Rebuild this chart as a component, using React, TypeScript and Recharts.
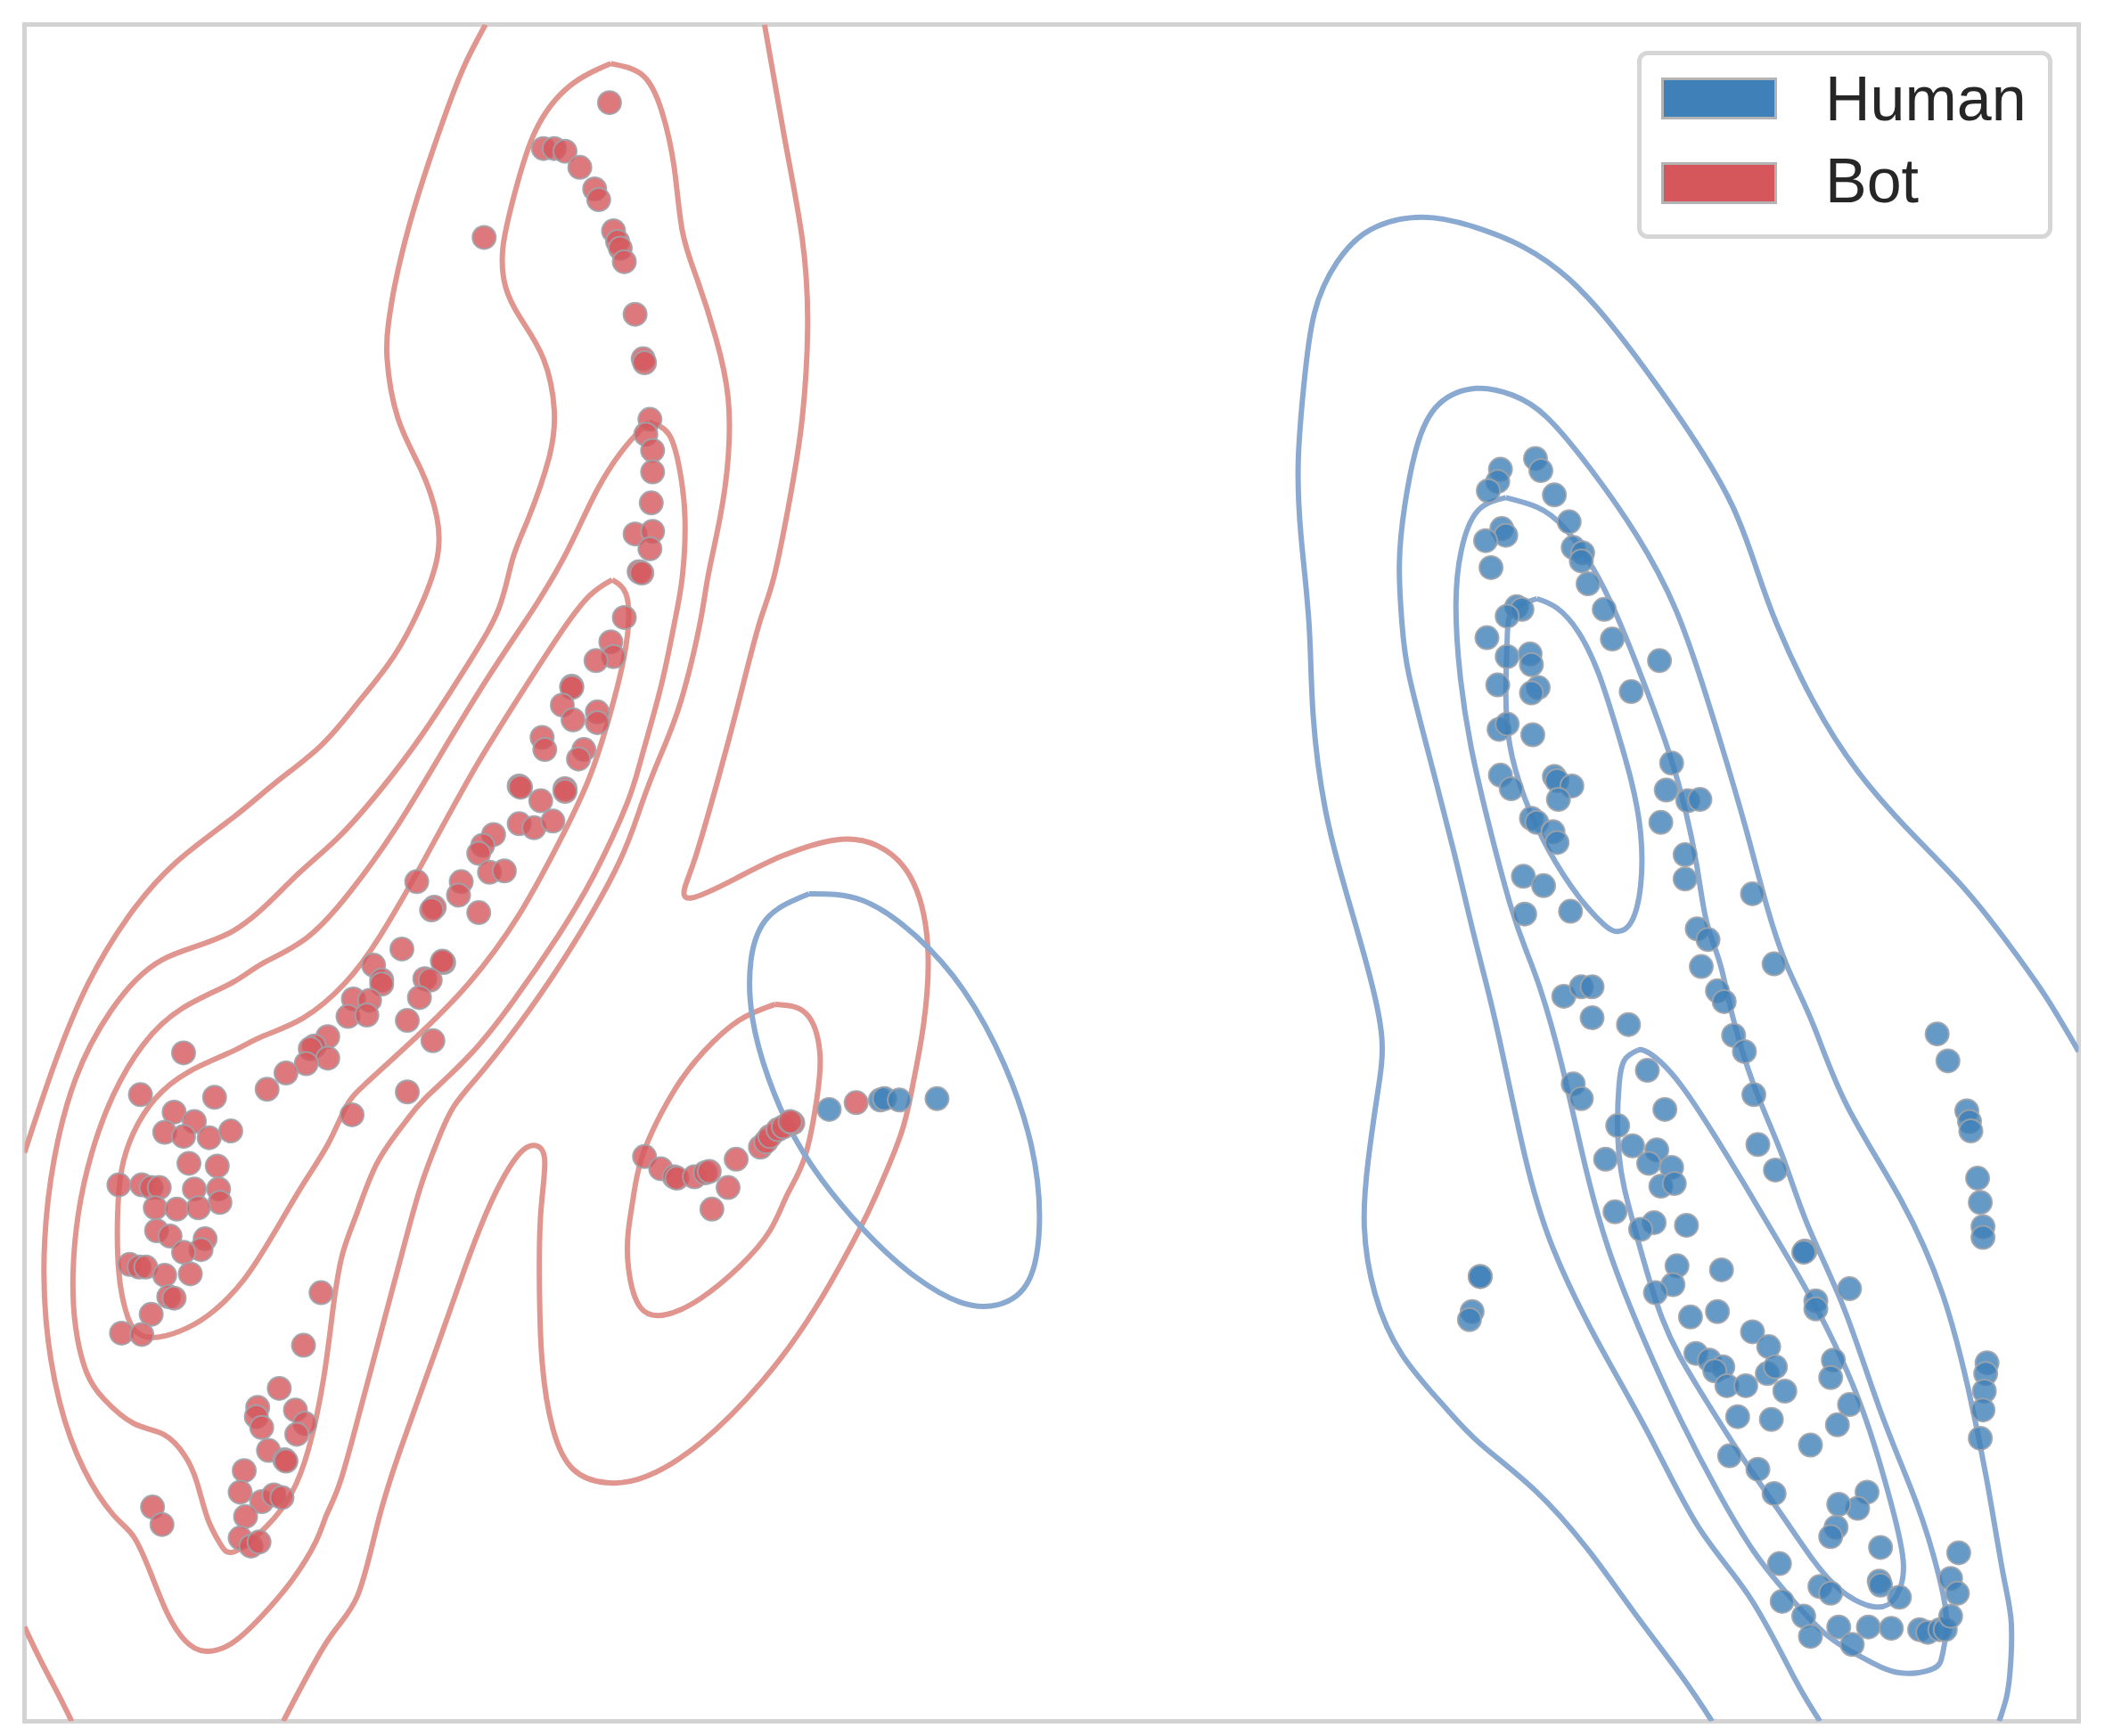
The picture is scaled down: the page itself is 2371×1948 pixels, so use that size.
import React from 'react';
import { ScatterChart, Scatter, XAxis, YAxis, ReferenceArea, Legend } from 'recharts';

type P = [number, number];

// ---- scatter points (embedding coordinates) ----
const botPoints: P[] = [
  [452,76],[403,110],[411,110],[419,112],[430,124],[441,140],[444,148],[455,171],[458,179],[460,184],[463,194],[359,176],[471,233],[477,266],[478,269],[482,311],[479,322],[484,334],[484,350],[483,373],[471,396],[484,394],[482,407],[474,424],[476,425],[463,458],
  [453,476],[455,487],[442,490],[424,509],[424,510],[417,523],[425,534],[443,528],[443,536],[402,547],[404,556],[433,556],[429,563],[385,583],[386,584],[401,594],[419,585],[419,587],[385,611],[396,614],[410,609],[366,619],[358,627],[355,633],[363,647],[374,646],[309,654],[342,654],[340,664],[322,673],[320,675],[355,677],[298,704],[277,716],[283,727],[283,730],[329,714],[328,713],[315,726],[319,727],[311,740],[262,741],[274,742],[258,754],[272,753],[302,757],[243,769],[233,776],[230,778],[243,785],[227,789],[321,772],[212,796],[198,808],[302,810],[261,827],
  [136,781],[104,812],[159,814],[129,825],[144,832],[122,840],[136,843],[155,844],[171,839],[140,863],[161,865],[88,879],[105,879],[112,881],[118,881],[144,882],[162,882],[163,892],[115,896],[131,897],[147,896],[116,913],[126,917],[152,919],[149,927],[136,929],[96,938],[103,940],[108,940],[122,946],[141,945],[125,962],[129,963],[112,975],[90,989],[105,990],[238,959],[225,998],
  [207,1030],[191,1044],[190,1051],[194,1059],[219,1046],[226,1056],[220,1064],[199,1076],[211,1083],[212,1084],[181,1091],[178,1107],[194,1114],[203,1109],[209,1111],[182,1125],[178,1141],[186,1147],[192,1144],[113,1118],[120,1131],
  [478,858],[490,867],[500,873],[502,874],[515,873],[523,870],[526,869],[540,881],[528,897],[546,860],[564,851],[568,847],[571,843],[577,838],[581,836],[588,833],[586,832],[635,818],
];

const humanPoints: P[] = [
  [615,823],[653,816],[656,815],[667,816],[695,815],
  [1113,348],[1111,357],[1104,364],[1139,340],[1143,349],[1153,367],[1164,387],[1114,392],[1117,397],[1102,401],[1106,421],[1167,406],[1174,410],[1173,416],[1178,433],[1190,452],[1125,450],[1129,452],[1118,457],[1103,473],[1196,474],[1118,487],[1135,485],[1136,493],[1231,490],[1111,508],[1141,510],[1136,514],[1210,513],[1112,541],[1118,537],[1137,545],[1113,575],[1121,585],[1153,576],[1155,579],[1166,583],[1156,593],[1240,566],[1236,586],[1252,594],[1261,593],[1136,607],[1140,610],[1152,617],[1155,625],[1232,610],[1250,634],[1250,652],[1300,663],[1130,650],[1145,657],[1131,678],[1165,676],[1259,689],[1267,697],[1262,717],[1316,715],
  [1160,739],[1173,732],[1181,732],[1181,755],[1208,760],[1274,735],[1279,743],[1286,768],[1294,780],[1301,812],[1304,849],[1317,868],[1167,804],[1173,815],[1222,794],[1235,823],[1200,835],[1211,850],[1191,860],[1229,853],[1223,863],[1240,866],[1232,880],[1242,878],[1198,899],[1227,907],[1217,912],[1251,909],[1339,928],[1338,929],[1372,956],[1347,965],[1347,971],[1244,939],[1277,942],[1241,953],[1228,959],[1254,977],[1274,973],[1300,988],[1312,999],[1258,1004],[1268,1009],[1278,1014],[1272,1017],[1281,1028],[1295,1028],[1311,1019],[1317,1014],[1324,1032],[1360,1009],[1358,1022],[1372,1042],[1363,1057],[1343,1072],[1289,1051],[1314,1053],[1283,1080],[1304,1090],[1316,1108],[1385,1107],[1378,1119],[1364,1116],[1362,1133],[1358,1140],[1395,1148],[1453,1152],[1320,1160],[1350,1177],[1358,1182],[1394,1173],[1395,1176],[1409,1185],[1447,1171],[1452,1182],[1322,1188],[1338,1199],[1343,1214],[1364,1207],[1374,1220],[1386,1207],[1403,1208],[1424,1209],[1430,1211],[1439,1209],[1443,1209],[1447,1199],
  [1437,767],[1445,787],[1459,824],[1461,832],[1462,839],[1467,874],[1469,892],[1471,910],[1471,918],[1474,1011],[1473,1019],[1472,1032],[1471,1046],[1469,1067],
  [1098,947],[1098,947],[1092,973],[1090,979],
];

// ---- density contour lines (Bot) ----
const botLevel1Left: P[] = [[360,18],[346,45],[333,77],[318,120],[304,165],[293,210],[288,240],[287,266],[295,310],[312,348],[324,384],[323,419],[306,462],[287,494],[264,523],[238,553],[205,580],[172,607],[130,640],[95,680],[65,730],[40,790],[18,855]];
const botLevel1Right: P[] = [[567,18],[582,103],[595,177],[599,242],[595,310],[586,369],[574,428],[563,463],[548,520],[532,580],[516,635],[508,658],[513,666],[545,652],[580,635],[620,623],[650,627],[675,650],[688,700],[685,760],[677,805],[668,842],[650,886],[637,913],[605,970],[565,1025],[520,1070],[480,1095],[450,1100],[425,1090],[410,1060],[402,1010],[400,950],[401,900],[404,862],[398,850],[385,856],[365,890],[345,940],[322,1005],[297,1075],[280,1130],[265,1184],[243,1217],[210,1277]];
const botLevel1Corner: P[] = [[18,1207],[30,1232],[42,1255],[53,1277]];
const botLevel2: P[] = [[453,47],[477,56],[491,83],[500,124],[506,171],[517,207],[531,251],[540,295],[540,340],[534,384],[525,428],[519,463],[505,520],[490,560],[476,596],[459,640],[426,699],[392,750],[359,793],[337,820],[325,845],[312,880],[298,930],[282,990],[266,1050],[252,1100],[242,1124],[234,1144],[216,1173],[194,1199],[172,1219],[152,1225],[137,1217],[124,1197],[112,1168],[99,1140],[84,1124],[62,1090],[44,1040],[34,980],[33,920],[40,860],[56,800],[82,750],[120,712],[172,691],[216,653],[249,623],[282,586],[315,542],[348,491],[370,451],[380,415],[392,384],[407,340],[411,304],[403,266],[386,236],[375,213],[373,183],[382,142],[397,97],[422,64],[453,47]];
const botLevel3: P[] = [[481,313],[496,322],[504,348],[508,384],[506,428],[500,463],[490,510],[476,561],[465,596],[441,648],[414,694],[381,742],[348,783],[315,815],[300,833],[280,862],[265,899],[254,930],[247,970],[240,1022],[229,1074],[216,1108],[198,1132],[174,1151],[163,1145],[154,1127],[146,1100],[137,1080],[121,1064],[99,1056],[77,1038],[64,1018],[56,985],[54,945],[58,900],[68,855],[84,812],[106,775],[135,748],[172,729],[194,715],[227,696],[260,661],[293,615],[326,561],[359,507],[388,463],[401,443],[421,408],[443,363],[464,331],[481,313]];
const botLevel4: P[] = [[454,430],[464,440],[466,464],[461,496],[452,531],[437,577],[414,626],[384,680],[348,729],[309,769],[271,804],[256,822],[243,849],[225,878],[203,915],[181,949],[159,972],[139,985],[117,992],[101,988],[93,972],[88,944],[87,904],[90,868],[99,840],[115,815],[140,795],[172,780],[194,769],[225,755],[256,729],[282,694],[315,637],[348,577],[381,523],[414,472],[437,442],[454,430]];
const botMiddle: P[] = [[575,745],[598,752],[608,780],[606,814],[597,858],[584,886],[571,913],[548,940],[520,963],[495,975],[475,970],[466,940],[466,913],[470,886],[478,853],[500,809],[522,780],[548,757],[575,745]];

// ---- density contour lines (Human) ----
const humanMiddle: P[] = [[600,663],[640,668],[680,695],[715,735],[745,790],[765,850],[771,905],[763,950],[740,968],[712,966],[680,948],[648,920],[617,885],[590,845],[570,800],[558,755],[557,712],[570,680],[600,663]];
const humanLevel1: P[] = [[1270,1277],[1247,1243],[1212,1196],[1179,1151],[1139,1106],[1098,1071],[1071,1043],[1040,1005],[1020,960],[1012,910],[1015,860],[1022,810],[1025,770],[1015,720],[998,660],[983,600],[974,530],[971,463],[965,397],[963,342],[967,287],[975,232],[992,194],[1017,170],[1055,161],[1093,168],[1130,183],[1164,207],[1197,243],[1230,287],[1260,331],[1285,375],[1302,419],[1318,463],[1345,520],[1378,572],[1418,618],[1458,660],[1492,703],[1518,740],[1542,780]];
const humanLevel2: P[] = [[1350,1277],[1330,1243],[1298,1185],[1260,1133],[1223,1064],[1185,995],[1152,926],[1131,857],[1112,770],[1100,720],[1090,680],[1078,630],[1060,560],[1045,500],[1040,463],[1038,419],[1042,375],[1051,331],[1067,300],[1095,288],[1122,293],[1147,309],[1180,348],[1214,397],[1243,452],[1265,514],[1281,566],[1296,618],[1310,670],[1325,715],[1345,760],[1370,820],[1410,890],[1441,960],[1460,1030],[1474,1099],[1486,1168],[1492,1204],[1491,1241],[1488,1261],[1483,1277]];
const humanLevel3: P[] = [[1117,369],[1140,376],[1160,391],[1182,422],[1199,456],[1213,490],[1226,524],[1239,561],[1250,600],[1259,644],[1266,684],[1276,715],[1285,753],[1301,805],[1322,857],[1341,909],[1368,971],[1395,1047],[1422,1116],[1438,1168],[1444,1203],[1441,1227],[1434,1238],[1409,1241],[1382,1230],[1355,1213],[1328,1185],[1301,1151],[1274,1106],[1247,1054],[1220,995],[1193,926],[1174,857],[1158,788],[1143,735],[1132,705],[1120,670],[1104,610],[1091,553],[1083,500],[1080,448],[1084,408],[1096,379],[1117,369]];
const humanLevel4Upper: P[] = [[1140,444],[1155,451],[1171,469],[1186,500],[1199,540],[1210,579],[1217,618],[1217,657],[1210,684],[1200,691],[1190,686],[1171,665],[1149,631],[1131,592],[1120,553],[1117,514],[1118,474],[1122,453],[1140,444]];
const humanLevel4Lower: P[] = [[1215,779],[1223,781],[1247,805],[1287,867],[1328,936],[1355,985],[1382,1047],[1403,1116],[1412,1161],[1406,1185],[1390,1192],[1360,1175],[1328,1133],[1293,1082],[1260,1030],[1233,978],[1212,909],[1201,857],[1201,805],[1206,785],[1215,779]];

const legendLabels = ['Human', 'Bot'];

const BOT = '#d5575c';
const HUMAN = '#3f80b8';
const BOT_LINE = '#e0958e';
const HUMAN_LINE = '#8aa9d1';

const toXY = (arr: P[]) => arr.map(([x, y]) => ({ x, y }));

const botContours = [botLevel1Left, botLevel1Right, botLevel1Corner, botLevel2, botLevel3, botLevel4, botMiddle];
const humanContours = [humanMiddle, humanLevel1, humanLevel2, humanLevel3, humanLevel4Upper, humanLevel4Lower];

const Empty = () => <g />;

const makeDot = (color: string) => (props: any) => (
  <circle cx={props.cx} cy={props.cy} r={13} fill={color} fillOpacity={0.8} stroke="#9ea3aa" strokeOpacity={0.9} strokeWidth={2} />
);

const LegendBox = () => (
  <div style={{ position: 'relative', width: 466, height: 211, boxSizing: 'border-box', border: '5px solid #d6d6d6', borderRadius: 12, background: 'rgba(255,255,255,0.85)', fontFamily: '"Liberation Sans", Arial, sans-serif', color: '#262626' }}>
    {legendLabels.map((label, i) => (
      <React.Fragment key={label}>
        <div style={{ position: 'absolute', left: 22, top: 25 + i * 95, width: 130, height: 47, boxSizing: 'border-box', border: '3px solid #b3b3b3', background: i === 0 ? HUMAN : BOT }} />
        <div style={{ position: 'absolute', left: 206, top: 14 + i * 92, fontSize: 70, lineHeight: '70px', whiteSpace: 'nowrap' }}>{label}</div>
      </React.Fragment>
    ))}
  </div>
);

export default function App() {
  return (
    <div style={{ position: 'absolute', left: 0, top: 0, width: 2371, height: 1948, background: '#fff' }}>
      <ScatterChart width={2371} height={1948} margin={{ top: 27.5, right: 38.5, bottom: 16.5, left: 27.5 }}>
        <XAxis type="number" dataKey="x" domain={[18, 1542]} allowDataOverflow hide />
        <YAxis type="number" dataKey="y" domain={[18, 1277]} reversed allowDataOverflow hide />
        {botContours.map((c, i) => (
          <Scatter key={'bc' + i} data={toXY(c)} line={{ stroke: BOT_LINE, strokeWidth: 6 }} lineJointType="natural" shape={Empty} isAnimationActive={false} legendType="none" />
        ))}
        {humanContours.map((c, i) => (
          <Scatter key={'hc' + i} data={toXY(c)} line={{ stroke: HUMAN_LINE, strokeWidth: 6 }} lineJointType="natural" shape={Empty} isAnimationActive={false} legendType="none" />
        ))}
        <Scatter name="Bot" data={toXY(botPoints)} shape={makeDot(BOT)} isAnimationActive={false} />
        <Scatter name="Human" data={toXY(humanPoints)} shape={makeDot(HUMAN)} isAnimationActive={false} />
        <ReferenceArea x1={18} x2={1542} y1={18} y2={1277} fill="none" stroke="#d3d3d3" strokeWidth={5} ifOverflow="visible" />
        <Legend layout="vertical" align="center" verticalAlign="middle" wrapperStyle={{ left: 1837, top: 57, width: 466, height: 211 }} content={() => <LegendBox />} />
      </ScatterChart>
    </div>
  );
}
